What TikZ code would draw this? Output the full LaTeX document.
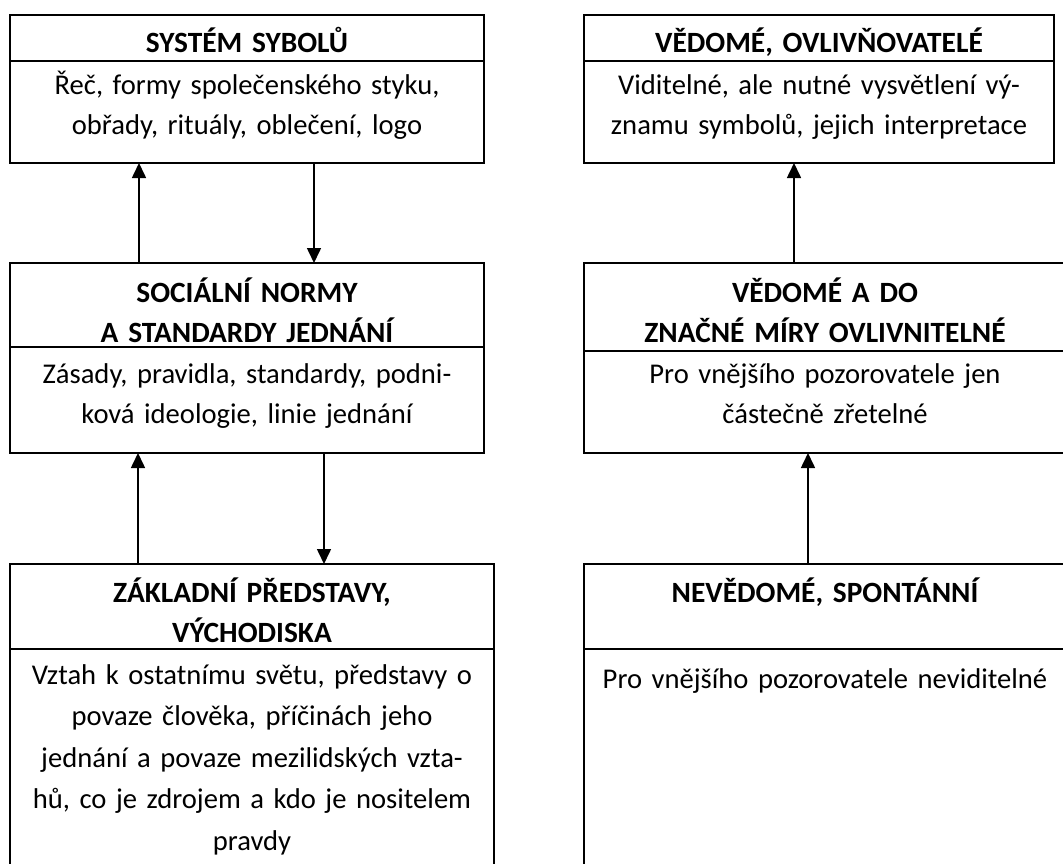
\documentclass[tikz,border=0pt]{standalone}
\usepackage{fontspec}
\setmainfont{Carlito}
\usetikzlibrary{arrows.meta}
\newcommand{\leftw}{474}
\newcommand{\rightw}{482}

\begin{document}
\begin{tikzpicture}[x=1pt, y=-1pt,
    rect/.style={draw, rectangle, anchor=north west, minimum width=\leftw pt, line width=1.6pt, inner sep=0pt, outer sep=0pt},
    txt/.style={anchor=base, text width=520pt, align=center, inner sep=0pt, font=\fontsize{28.6}{40}\selectfont},
    head/.style={txt, font=\fontsize{29.4}{40}\selectfont\bfseries},
    arr/.style={line width=1.6pt, -{Triangle[width=14pt, length=15pt]}}]
    \useasboundingbox (0,0) rectangle (1063,864);

    % Left column
    \node[rect, minimum height=46pt] (symH) at (10,15) {};
    \node[rect, minimum height=102pt] (symB) at (10,61) {};
    \node[rect, minimum height=84pt] (normH) at (10,263) {};
    \node[rect, minimum height=106pt] (normB) at (10,347) {};
    \node[rect, minimum width=484pt, minimum height=85pt] (zakH) at (10,564) {};
    \node[rect, minimum width=484pt, minimum height=240pt] (zakB) at (10,649) {};

    \node[head] (symHt) at ([yshift=-38pt]symH.north) {SYSTÉM SYBOLŮ};
    \node[txt] (symBt) at ([yshift=-34pt]symB.north) {Řeč, formy společenského styku,\\obřady, rituály, oblečení, logo};
    \node[head] (normHt) at ([yshift=-39pt]normH.north) {SOCIÁLNÍ NORMY\\A STANDARDY JEDNÁNÍ};
    \node[txt] (normBt) at ([yshift=-36pt]normB.north) {Zásady, pravidla, standardy, podni-\\ková ideologie, linie jednání};
    \node[head] (zakHt) at ([yshift=-38pt]zakH.north) {ZÁKLADNÍ PŘEDSTAVY,\\VÝCHODISKA};
    \node[txt, font=\fontsize{28.6}{41.5}\selectfont] (zakBt) at ([yshift=-35pt]zakB.north) {Vztah k ostatnímu světu, představy o\\povaze člověka, příčinách jeho\\jednání a povaze mezilidských vzta-\\hů, co je zdrojem a kdo je nositelem\\pravdy};

    % Right column
    \node[rect, minimum width=470pt, minimum height=46pt] (vedH) at (584,15) {};
    \node[rect, minimum width=470pt, minimum height=102pt] (vedB) at (584,61) {};
    \node[rect, minimum width=\rightw pt, minimum height=88pt] (vedzH) at (584,263) {};
    \node[rect, minimum width=\rightw pt, minimum height=102pt] (vedzB) at (584,351) {};
    \node[rect, minimum width=\rightw pt, minimum height=85pt] (nevH) at (584,564) {};
    \node[rect, minimum width=\rightw pt, minimum height=240pt] (nevB) at (584,649) {};

    \node[head] (vedHt) at ([yshift=-38pt]vedH.north) {VĚDOMÉ, OVLIVŇOVATELÉ};
    \node[txt] (vedBt) at ([yshift=-34pt]vedB.north) {Viditelné, ale nutné vysvětlení vý-\\znamu symbolů, jejich interpretace};
    \node[head] (vedzHt) at ([yshift=-39pt]vedzH.north) {VĚDOMÉ A DO\\ZNAČNÉ MÍRY OVLIVNITELNÉ};
    \node[txt] (vedzBt) at ([yshift=-32pt]vedzB.north) {Pro vnějšího pozorovatele jen\\částečně zřetelné};
    \node[head] (nevHt) at ([yshift=-38pt]nevH.north) {NEVĚDOMÉ, SPONTÁNNÍ};
    \node[txt] (nevBt) at ([yshift=-39pt]nevB.north) {Pro vnějšího pozorovatele neviditelné};

    % Arrows
    \draw[arr] ([xshift=129pt]normH.north west) -- ([xshift=129pt]symB.south west);
    \draw[arr] ([xshift=304pt]symB.south west) -- ([xshift=304pt]normH.north west);
    \draw[arr] ([xshift=128pt]zakH.north west) -- ([xshift=128pt]normB.south west);
    \draw[arr] ([xshift=314pt]normB.south west) -- ([xshift=314pt]zakH.north west);
    \draw[arr] ([xshift=210pt]vedzH.north west) -- ([xshift=210pt]vedB.south west);
    \draw[arr] ([xshift=224pt]nevH.north west) -- ([xshift=224pt]vedzB.south west);
\end{tikzpicture}
\end{document}
